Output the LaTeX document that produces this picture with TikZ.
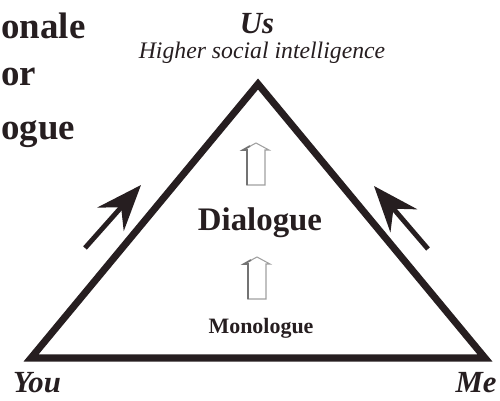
\documentclass[tikz,border=0pt]{standalone}
\usepackage{fontspec}
\setmainfont{Liberation Serif}
\usetikzlibrary{arrows.meta}
\definecolor{ink}{RGB}{38,30,32}
\tikzset{
  word/.style={text=ink, inner sep=0pt, anchor=base},
  title/.style={word, anchor=base west, font=\fontsize{21}{24}\selectfont\bfseries},
  side/.style={draw=ink, line width=2.8pt, -{Stealth[length=26pt, width=20pt, inset=9pt]}},
  openarrow/.pic={
    \draw[gray!75, line width=.6pt] (-9,42) to (-9,7) to (-13,7) to (0,0) to (13,7) to (9,7) to (9,42) -- cycle;
    \draw[gray!90!black, line width=1pt] (-9,42) to (-9,7) to (-13,7) to (-6,3);
  }
}
\begin{document}
\begin{tikzpicture}[x=.02cm, y=-.02cm]
      \useasboundingbox (0,0) rectangle (500,400);
      %% title
      \node[title] (t1) at (1, 38) {onale};
      \node[title] (t2) at (1, 85) {or};
      \node[title] (t3) at (1, 139) {ogue};

      %% triangle
      \coordinate (top) at (258, 84);
      \coordinate (lft) at (31, 358);
      \coordinate (rgt) at (485, 358);
      \draw[ink, line width=4pt, line join=miter] (top) to (lft) to (rgt) -- cycle;

      %% corners
      \node[word, font=\fontsize{17.5}{20}\selectfont\bfseries\itshape] (us) at (257, 33) {Us};
      \node[word, font=\fontsize{13.5}{15}\selectfont\itshape] (higher) at (262, 58) {Higher social intelligence};
      \node[word, font=\fontsize{17.5}{20}\selectfont\bfseries\itshape] (you) at (37, 392) {You};
      \node[word, font=\fontsize{17.5}{20}\selectfont\bfseries\itshape] (me) at (476, 392) {Me};

      %% inside
      \pic at (256, 143) {openarrow};
      \node[word, font=\fontsize{18.7}{22}\selectfont\bfseries] (dialogue) at (260, 230) {Dialogue};
      \pic at (257, 257) {openarrow};
      \node[word, font=\fontsize{12.5}{15}\selectfont\bfseries] (monologue) at (261, 333) {Monologue};

      %% side arrows
      \coordinate (l0) at (85, 248);
      \coordinate (l1) at (141, 185);
      \draw[side] (l0) to (l1);
      \coordinate (r0) at (428, 249);
      \coordinate (r1) at (374, 186);
      \draw[side] (r0) to (r1);
\end{tikzpicture}
\end{document}
